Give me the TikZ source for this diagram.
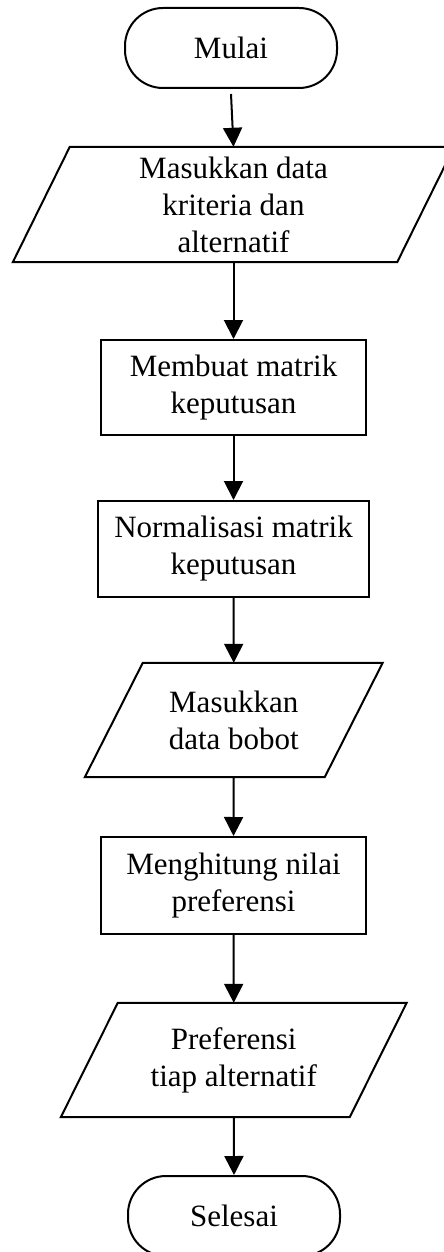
\documentclass[tikz,border=0pt]{standalone}
\usepackage{fontspec}
\setmainfont{Liberation Serif}
\usetikzlibrary{arrows.meta}
\begin{document}
\begin{tikzpicture}[x=1pt,y=-1pt,
  every node/.style={font=\fontsize{31}{37}\selectfont, align=center, inner sep=0pt},
  proc/.style={draw, line width=2pt, rectangle},
  term/.style={draw, line width=2pt, rounded corners=38pt},
  io/.style={draw=none, rectangle},
  iobox/.style={line width=2pt, line join=miter},
  arr/.style={line width=2pt, -{Triangle[length=19pt,width=19pt]}}]
\clip (0,0) rectangle (444,1252);
\fill[white] (0,0) rectangle (444,1252);
% nodes
\node[term, minimum width=212pt, minimum height=80pt] (mulai) at (231,48) {Mulai};
\node[io, minimum width=384pt, minimum height=115pt] (in1) at (233.5,204.5) {Masukkan data\\kriteria dan\\alternatif};
\node[proc, minimum width=265pt, minimum height=95pt] (mat) at (233.5,387.5) {Membuat matrik\\keputusan};
\node[proc, minimum width=271pt, minimum height=96pt] (norm) at (233.5,549) {Normalisasi matrik\\keputusan};
\node[io, minimum width=239.5pt, minimum height=114pt] (in2) at (233.75,720) {Masukkan\\data bobot};
\node[proc, minimum width=265pt, minimum height=97pt] (hit) at (233.5,885.5) {Menghitung nilai\\preferensi};
\node[io, minimum width=288.5pt, minimum height=114pt] (out) at (233.75,1060) {Preferensi\\tiap alternatif};
\node[term, minimum width=212pt, minimum height=80pt] (selesai) at (234,1216) {Selesai};
% parallelograms
\foreach \n/\s in {in1/28.5, in2/29, out/28.5}{
  \draw[iobox] ([xshift=\s pt]\n.north west) -- ([xshift=\s pt]\n.north east)
    -- ([xshift=-\s pt]\n.south east) -- ([xshift=-\s pt]\n.south west) -- cycle;
}
% connectors
\draw[arr] ([yshift=-5pt]mulai.south) -- (in1.north);
\draw[arr] (in1.south) -- (mat.north);
\draw[arr] (mat.south) -- (norm.north);
\draw[arr] (norm.south) -- (in2.north);
\draw[arr] (in2.south) -- (hit.north);
\draw[arr] (hit.south) -- (out.north);
\draw[arr] (out.south) -- (selesai.north);
\end{tikzpicture}
\end{document}
